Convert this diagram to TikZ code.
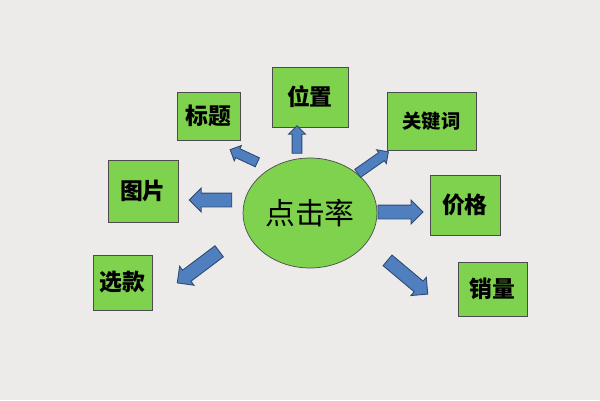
\documentclass[tikz,border=0pt]{standalone}
\usepackage{fontspec}
\newfontfamily\cjk{Noto Sans CJK SC}
\usetikzlibrary{shapes.arrows,shapes.geometric}
\definecolor{bg}{HTML}{EDEBEA}
\definecolor{gr}{HTML}{7ED24E}
\definecolor{bl}{HTML}{4F7FBF}
\definecolor{bd}{HTML}{2E4A6E}
\tikzset{
 box/.style={draw=black!70,line width=0.5pt,fill=gr,inner sep=0pt,font=\cjk\bfseries\fontsize{13pt}{13pt}\selectfont},
 barrow/.style={single arrow,draw=bd,fill=bl,line width=0.5pt,minimum height=#1,single arrow head extend=0.1cm,inner xsep=0pt,inner ysep=0.13cm}
}
\begin{document}
\begin{tikzpicture}[x=0.02cm,y=-0.02cm]
\fill[bg] (0,0) rectangle (600,400);
\node[draw=black!70,fill=gr,ellipse,inner sep=0pt,minimum width=2.68cm,minimum height=2.2cm,font=\cjk\fontsize{17pt}{17pt}\selectfont] (c) at (310,213) {点击率};
\node[box,minimum width=1.26cm,minimum height=0.96cm] (bt) at (208.5,116) {标题};
\node[box,minimum width=1.52cm,minimum height=1.2cm] (wz) at (310,97) {位置};
\node[box,minimum width=1.78cm,minimum height=1.16cm,font=\cjk\bfseries\fontsize{11pt}{11pt}\selectfont] (gj) at (431.5,121) {关键词};
\node[box,minimum width=1.4cm,minimum height=1.24cm] (tp) at (143,191) {图片};
\node[box,minimum width=1.4cm,minimum height=1.2cm] (jg) at (465,205) {价格};
\node[box,minimum width=1.18cm,minimum height=1.1cm] (xk) at (122.5,282.5) {选款};
\node[box,minimum width=1.38cm,minimum height=1.08cm] (xl) at (492.5,289) {销量};
\node[barrow=0.6cm,rotate=155,inner ysep=0.09cm,single arrow head extend=0.07cm] (a1) at (246,157) {};
\node[barrow=0.55cm,rotate=90,inner ysep=0.09cm,single arrow head extend=0.07cm] (a2) at (297,142) {};
\node[barrow=0.75cm,rotate=35,inner ysep=0.09cm,single arrow head extend=0.07cm] (a3) at (371,164) {};
\node[barrow=0.85cm,rotate=180] (a4) at (214,200) {};
\node[barrow=0.9cm,rotate=0] (a5) at (397,212) {};
\node[barrow=1.05cm,rotate=217] (a6) at (201,265) {};
\node[barrow=1.05cm,rotate=-40] (a7) at (405,275) {};
\end{tikzpicture}
\end{document}
